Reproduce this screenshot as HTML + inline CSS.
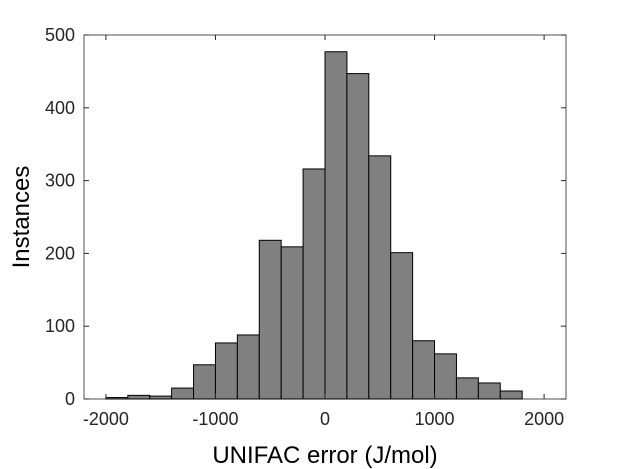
<!DOCTYPE html>
<html><head><meta charset="utf-8"><style>body{margin:0;background:#fff}svg{display:block}text{font-family:"Liberation Sans",sans-serif}</style></head>
<body>
<svg width="625" height="469" viewBox="0 0 625 469">
<rect x="84" y="35" width="482" height="364" fill="#fff" stroke="#262626" stroke-width="0.8"/>
<g id="bars"></g><g id="ticks"></g>
<text x="325" y="463" text-anchor="middle" font-size="24" fill="#000">UNIFAC error (J/mol)</text>
<text transform="translate(29,217) rotate(-90)" text-anchor="middle" font-size="24" fill="#000">Instances</text>
</svg>
<script>
const binStarts=[-2000,-1800,-1600,-1400,-1200,-1000,-800,-600,-400,-200,0,200,400,600,800,1000,1200,1400,1600];
const counts=[2,5,4,15,47,77,88,218,209,316,477,447,334,201,80,62,29,22,11];
const binWidth=200;
const xTicks=[-2000,-1000,0,1000,2000];
const yTicks=[0,100,200,300,400,500];
const X=v=>84+(v+2200)/4400*482, Y=v=>399-v/500*364;
const ns='http://www.w3.org/2000/svg';
const bg=document.getElementById('bars'), tg=document.getElementById('ticks');
binStarts.forEach((b,i)=>{const r=document.createElementNS(ns,'rect');


r.setAttribute('x',X(b));r.setAttribute('width',X(b+binWidth)-X(b));
r.setAttribute('y',Y(counts[i]));r.setAttribute('height',Y(0)-Y(counts[i]));
r.setAttribute('fill','#808080');r.setAttribute('stroke','#000');r.setAttribute('stroke-width','1');bg.appendChild(r);});
function add(tag,attrs,txt){const e=document.createElementNS(ns,tag);for(const k in attrs)e.setAttribute(k,attrs[k]);if(txt!==undefined)e.textContent=txt;tg.appendChild(e);return e;}
xTicks.forEach(v=>{const x=X(v);
add('line',{x1:x,x2:x,y1:399,y2:394,stroke:'#262626'});add('line',{x1:x,x2:x,y1:35,y2:40,stroke:'#262626'});
const t=add('text',{x:x,y:425,'text-anchor':'middle','font-size':18,fill:'#262626'},v);

});
yTicks.forEach(v=>{const y=Y(v);
add('line',{x1:84,x2:89,y1:y,y2:y,stroke:'#262626'});add('line',{x1:566,x2:561,y1:y,y2:y,stroke:'#262626'});
const t=add('text',{x:75,y:y+6,'text-anchor':'end','font-size':18,fill:'#262626'},v);

});
</script>
</body></html>
